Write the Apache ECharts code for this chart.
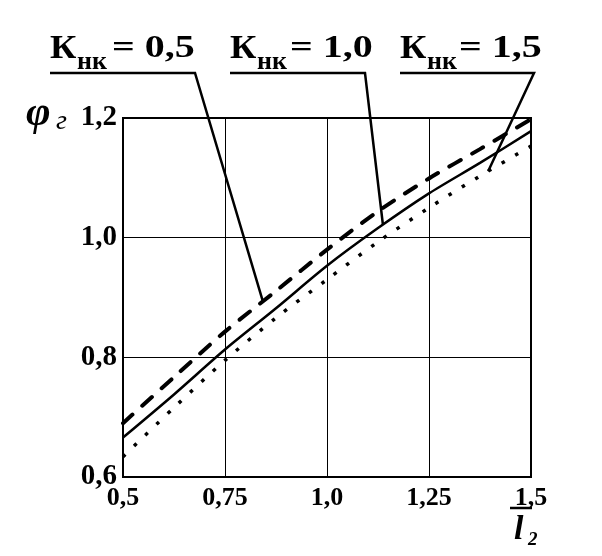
<!DOCTYPE html>
<html>
<head>
<meta charset="utf-8">
<script src="https://cdn.jsdelivr.net/npm/echarts@6/dist/echarts.min.js"></script>
<style>
  html, body { margin: 0; padding: 0; background: #fff; }
  #main { width: 602px; height: 556px; }
</style>
</head>
<body>
<div id="main"></div>
<script>
// l2 (относительная длина) по оси X
var xs = [0.5, 0.625, 0.75, 0.875, 1.0, 1.125, 1.25, 1.375, 1.5]
// φг при разных Кнк
var k05 = [0.690, 0.767, 0.843, 0.911, 0.980, 1.044, 1.099, 1.148, 1.198]
var k10 = [0.666, 0.738, 0.813, 0.882, 0.953, 1.016, 1.074, 1.125, 1.178]
var k15 = [0.634, 0.716, 0.795, 0.866, 0.930, 0.993, 1.050, 1.103, 1.153]

var xTicks = { 0.5: '0,5', 0.75: '0,75', 1: '1,0', 1.25: '1,25', 1.5: '1,5' }
var yTicks = { 0.6: '0,6', 0.8: '0,8', 1: '1,0', 1.2: '1,2' }

// подписи кривых и куда указывают выноски
var labels = ['0,5', '1,0', '1,5']
var leaderAt = [[0.843, 0.893], [1.137, 1.022], [1.395, 1.111]]

function pairs (ys) {
  return xs.map(function (x, i) { return [x, ys[i]] })
}

var myChart = echarts.init(document.getElementById('main'))
var serif = '"Liberation Serif", "Times New Roman", serif'

myChart.setOption({
  animation: false,
  backgroundColor: '#fff',
  grid: {
    left: 123, right: 71, top: 118, bottom: 79,
    show: true, borderColor: '#000', borderWidth: 2
  },
  xAxis: {
    type: 'value',
    min: 0.5, max: 1.5, interval: 0.25,
    axisLine: { lineStyle: { color: '#000', width: 2 } },
    axisTick: { show: false },
    splitLine: { lineStyle: { color: '#000', width: 1 } },
    axisLabel: {
      margin: 8,
      color: '#000',
      fontFamily: serif,
      fontWeight: 'bold',
      fontSize: 26,
      formatter: function (v) { return xTicks[Math.round(v * 100) / 100] || '' }
    }
  },
  yAxis: {
    type: 'value',
    min: 0.6, max: 1.2, interval: 0.2,
    axisLine: { lineStyle: { color: '#000', width: 2 } },
    axisTick: { show: false },
    splitLine: { lineStyle: { color: '#000', width: 1 } },
    axisLabel: {
      margin: 6,
      color: '#000',
      fontFamily: serif,
      fontWeight: 'bold',
      fontSize: 29,
      formatter: function (v) { return yTicks[Math.round(v * 10) / 10] || '' }
    }
  },
  series: [
    {
      name: 'Кнк = 0,5',
      type: 'line',
      smooth: 0.3,
      symbol: 'none',
      lineStyle: { color: '#000', width: 4, type: [13, 13], cap: 'round' },
      data: pairs(k05)
    },
    {
      name: 'Кнк = 1,0',
      type: 'line',
      smooth: 0.3,
      symbol: 'none',
      lineStyle: { color: '#000', width: 2.5 },
      data: pairs(k10)
    },
    {
      name: 'Кнк = 1,5',
      type: 'line',
      smooth: 0.3,
      symbol: 'none',
      lineStyle: { color: '#000', width: 3.5, type: [3.5, 12] },
      data: pairs(k15)
    }
  ]
})

// подписи Кнк с выносками и подписи осей
var heads = [
  { x: 50, line: [50, 195], sub: 77, eq: 112 },
  { x: 230, line: [230, 365], sub: 257, eq: 290 },
  { x: 400, line: [400, 534], sub: 427, eq: 459 }
]
var g = []
heads.forEach(function (h, i) {
  var end = myChart.convertToPixel({ gridIndex: 0 }, leaderAt[i])
  g.push({
    type: 'text', x: h.x, y: 49, scaleX: 1.1,
    style: { text: 'К', font: 'bold 33px ' + serif, fill: '#000', textVerticalAlign: 'middle' }
  })
  g.push({
    type: 'text', x: h.sub, y: 62,
    style: { text: 'нк', font: 'bold 26px ' + serif, fill: '#000', textVerticalAlign: 'middle' }
  })
  g.push({
    type: 'text', x: h.eq, y: 49, scaleX: 1.25,
    style: { text: '= ' + labels[i], font: 'bold 32px ' + serif, fill: '#000', textVerticalAlign: 'middle' }
  })
  g.push({
    type: 'polyline',
    shape: { points: [[h.line[0], 73], [h.line[1], 73], end] },
    style: { stroke: '#000', lineWidth: 2.5, fill: null }
  })
})
// φг
g.push({
  type: 'text', x: 26, y: 114,
  style: { text: 'φ', font: 'italic bold 42px ' + serif, fill: '#000', textVerticalAlign: 'middle' }
})
g.push({
  type: 'text', x: 56, y: 122,
  style: { text: 'г', font: 'italic 28px ' + serif, fill: '#000', textVerticalAlign: 'middle' }
})
// l2 с чертой
g.push({
  type: 'line',
  shape: { x1: 510, y1: 508, x2: 532, y2: 508 },
  style: { stroke: '#000', lineWidth: 2.5 }
})
g.push({
  type: 'text', x: 514, y: 530,
  style: { text: 'l', font: 'italic bold 34px ' + serif, fill: '#000', textVerticalAlign: 'middle' }
})
g.push({
  type: 'text', x: 528, y: 540,
  style: { text: '2', font: 'italic bold 19px ' + serif, fill: '#000', textVerticalAlign: 'middle' }
})
myChart.setOption({ graphic: g })
</script>
</body>
</html>
